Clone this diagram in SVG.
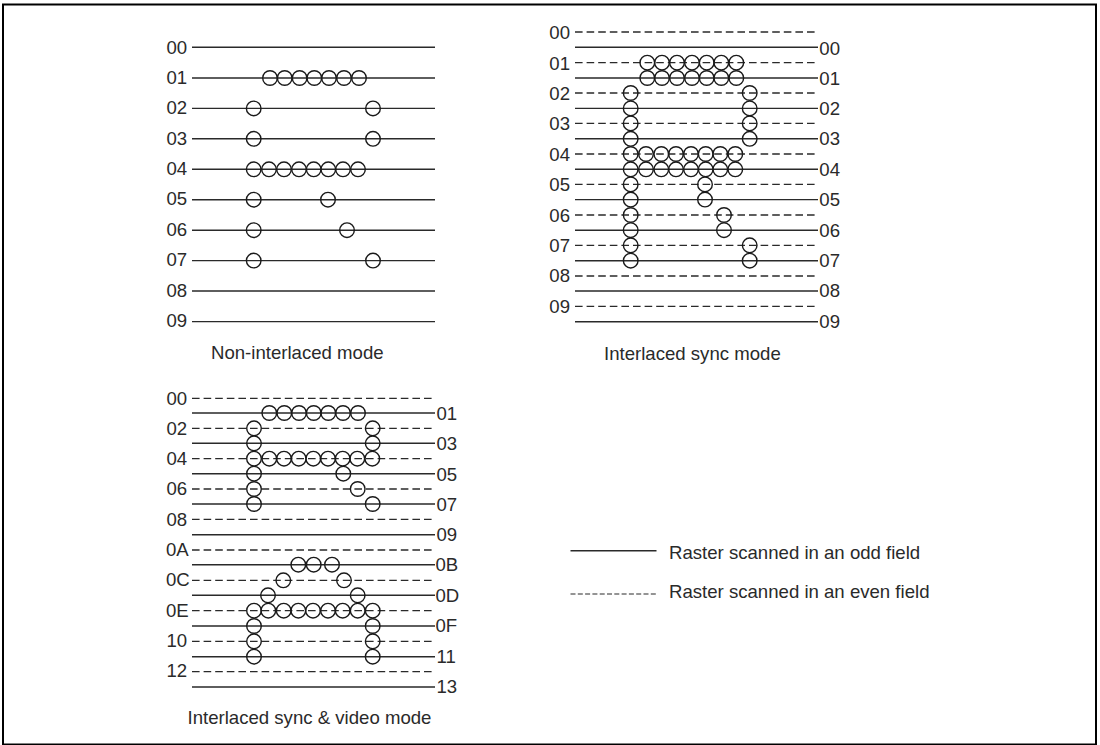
<svg xmlns="http://www.w3.org/2000/svg" width="1100" height="745" viewBox="0 0 1100 745">
<style>
text{font-family:"Liberation Sans",Arial,sans-serif;font-size:18.6px;fill:#2a2a2a}
.s{stroke:#2a2a2a;stroke-width:1.4;fill:none}
.d{stroke:#2a2a2a;stroke-width:1.3;fill:none;stroke-dasharray:7.6 4}
.l{stroke:#2a2a2a;stroke-width:1.2;fill:none;stroke-dasharray:5 2.3}
circle{stroke:#1a1a1a;stroke-width:1.4;fill:none;r:7.3px}
</style>
<rect x="3" y="4.5" width="1093" height="740" fill="#fff" stroke="#000" stroke-width="2"/>
<g id="non-interlaced">
<g id="n-lines">
<path class="s" d="M192 47.3H435M192 78H435M192 108.4H435M192 138.8H435M192 169.3H435M192 199.7H435M192 230.2H435M192 260.6H435M192 291H435M192 321.6H435"/>
</g>
<g id="n-labels">
<text x="166.5" y="53.5">00</text><text x="166.5" y="84">01</text><text x="166.5" y="114">02</text><text x="166.5" y="144.5">03</text><text x="166.5" y="175">04</text><text x="166.5" y="205">05</text><text x="166.5" y="236">06</text><text x="166.5" y="266">07</text><text x="166.5" y="296.5">08</text><text x="166.5" y="327">09</text>
<text x="211" y="359">Non-interlaced mode</text>
</g>
<g id="n-dots">
<circle cx="270" cy="78"/><circle cx="284.7" cy="78"/><circle cx="299.6" cy="78"/><circle cx="314.3" cy="78"/><circle cx="329" cy="78"/><circle cx="344" cy="78"/><circle cx="359" cy="78"/>
<circle cx="253.7" cy="108.4"/><circle cx="373" cy="108.4"/><circle cx="253.7" cy="138.8"/><circle cx="373" cy="138.8"/>
<circle cx="253.7" cy="169.3"/><circle cx="269" cy="169.3"/><circle cx="284" cy="169.3"/><circle cx="299" cy="169.3"/><circle cx="313.7" cy="169.3"/><circle cx="328.3" cy="169.3"/><circle cx="343" cy="169.3"/><circle cx="358" cy="169.3"/>
<circle cx="253.7" cy="199.7"/><circle cx="328" cy="199.7"/><circle cx="253.7" cy="230.2"/><circle cx="347" cy="230.2"/><circle cx="253.7" cy="260.6"/><circle cx="373" cy="260.6"/>
</g>
</g>
<g id="interlaced-sync">
<g id="i-lines">
<path class="d" d="M575 32H818M575 62.7H818M575 93H818M575 123.4H818M575 154H818M575 184.4H818M575 215H818M575 245.3H818M575 276H818M575 306.4H818"/>
<path class="s" d="M575 47.3H818M575 78H818M575 108.4H818M575 138.8H818M575 169.3H818M575 199.6H818M575 230.2H818M575 260.7H818M575 291H818M575 321.7H818"/>
</g>
<g id="i-labels">
<text x="549.3" y="39">00</text><text x="549.3" y="69.5">01</text><text x="549.3" y="99.5">02</text><text x="549.3" y="130">03</text><text x="549.3" y="160.5">04</text><text x="549.3" y="190.5">05</text><text x="549.3" y="221.5">06</text><text x="549.3" y="251.5">07</text><text x="549.3" y="282">08</text><text x="549.3" y="312.5">09</text>
<text x="819.3" y="54.5">00</text><text x="819.3" y="84.5">01</text><text x="819.3" y="114.5">02</text><text x="819.3" y="145">03</text><text x="819.3" y="175.5">04</text><text x="819.3" y="205.5">05</text><text x="819.3" y="236.5">06</text><text x="819.3" y="266.5">07</text><text x="819.3" y="297">08</text><text x="819.3" y="327.5">09</text>
<text x="604" y="360">Interlaced sync mode</text>
</g>
<g id="i-dots">
<circle cx="647.3" cy="62.7"/><circle cx="662" cy="62.7"/><circle cx="677" cy="62.7"/><circle cx="692" cy="62.7"/><circle cx="706.7" cy="62.7"/><circle cx="721.3" cy="62.7"/><circle cx="736.3" cy="62.7"/>
<circle cx="647.3" cy="78"/><circle cx="662" cy="78"/><circle cx="677" cy="78"/><circle cx="692" cy="78"/><circle cx="706.7" cy="78"/><circle cx="721.3" cy="78"/><circle cx="736.3" cy="78"/>
<circle cx="630.7" cy="93"/><circle cx="749.7" cy="93"/><circle cx="630.7" cy="108.4"/><circle cx="749.7" cy="108.4"/><circle cx="630.7" cy="123.4"/><circle cx="749.7" cy="123.4"/><circle cx="630.7" cy="138.8"/><circle cx="749.7" cy="138.8"/>
<circle cx="630.7" cy="154"/><circle cx="646" cy="154"/><circle cx="661.3" cy="154"/><circle cx="676" cy="154"/><circle cx="691" cy="154"/><circle cx="705.7" cy="154"/><circle cx="720.3" cy="154"/><circle cx="735.3" cy="154"/>
<circle cx="630.7" cy="169.3"/><circle cx="646" cy="169.3"/><circle cx="661.3" cy="169.3"/><circle cx="676" cy="169.3"/><circle cx="691" cy="169.3"/><circle cx="705.7" cy="169.3"/><circle cx="720.3" cy="169.3"/><circle cx="735.3" cy="169.3"/>
<circle cx="630.7" cy="184.4"/><circle cx="705" cy="184.4"/><circle cx="630.7" cy="199.6"/><circle cx="705" cy="199.6"/>
<circle cx="630.7" cy="215"/><circle cx="724" cy="215"/><circle cx="630.7" cy="230.2"/><circle cx="724" cy="230.2"/>
<circle cx="630.7" cy="245.3"/><circle cx="749.7" cy="245.3"/><circle cx="630.7" cy="260.7"/><circle cx="749.7" cy="260.7"/>
</g>
</g>
<g id="interlaced-sync-video">
<g id="v-lines">
<path class="d" d="M192 398.3H435M192 428.3H435M192 458.7H435M192 489H435M192 519.3H435M192 550H435M192 580.3H435M192 610.7H435M192 641.3H435M192 671.7H435"/>
<path class="s" d="M192 413H435M192 443.3H435M192 473.7H435M192 504H435M192 534.7H435M192 564.7H435M192 595.3H435M192 626H435M192 656.7H435M192 687H435"/>
</g>
<g id="v-labels">
<text x="166.5" y="404.5">00</text><text x="166.5" y="434.5">02</text><text x="166.5" y="465">04</text><text x="166.5" y="495">06</text><text x="166.5" y="525.5">08</text><text x="166" y="555.5">0A</text><text x="166" y="586">0C</text><text x="166" y="616.5">0E</text><text x="166.5" y="646.5">10</text><text x="166.5" y="677">12</text>
<text x="436.5" y="420">01</text><text x="436.5" y="450">03</text><text x="436.5" y="480.5">05</text><text x="436.5" y="510.5">07</text><text x="436.5" y="541">09</text><text x="435.5" y="571">0B</text><text x="435.5" y="601.5">0D</text><text x="435.5" y="632">0F</text><text x="436.5" y="662.5">11</text><text x="436.5" y="692.5">13</text>
<text x="187.5" y="724">Interlaced sync &amp; video mode</text>
</g>
<g id="v-dots">
<circle cx="269.3" cy="413"/><circle cx="284.3" cy="413"/><circle cx="299" cy="413"/><circle cx="313.7" cy="413"/><circle cx="328.3" cy="413"/><circle cx="343" cy="413"/><circle cx="358" cy="413"/>
<circle cx="254" cy="428.3"/><circle cx="372.7" cy="428.3"/><circle cx="254" cy="443.3"/><circle cx="372.7" cy="443.3"/>
<circle cx="254" cy="458.7"/><circle cx="269.3" cy="458.7"/><circle cx="284" cy="458.7"/><circle cx="298.7" cy="458.7"/><circle cx="313.3" cy="458.7"/><circle cx="328" cy="458.7"/><circle cx="342.7" cy="458.7"/><circle cx="357.3" cy="458.7"/><circle cx="372.3" cy="458.7"/>
<circle cx="254" cy="473.7"/><circle cx="343.3" cy="473.7"/><circle cx="254" cy="489"/><circle cx="357.7" cy="489"/><circle cx="254" cy="504"/><circle cx="372.7" cy="504"/>
<circle cx="298.3" cy="564.7"/><circle cx="313.7" cy="564.7"/><circle cx="332" cy="564.7"/>
<circle cx="283.3" cy="580.3"/><circle cx="344" cy="580.3"/><circle cx="268" cy="595.3"/><circle cx="357.7" cy="595.3"/>
<circle cx="254" cy="610.7"/><circle cx="268.3" cy="610.7"/><circle cx="283.7" cy="610.7"/><circle cx="298.3" cy="610.7"/><circle cx="313" cy="610.7"/><circle cx="328" cy="610.7"/><circle cx="342.7" cy="610.7"/><circle cx="357.7" cy="610.7"/><circle cx="372.7" cy="610.7"/>
<circle cx="254" cy="626"/><circle cx="372.7" cy="626"/><circle cx="254" cy="641.3"/><circle cx="372.7" cy="641.3"/><circle cx="254" cy="656.7"/><circle cx="372.7" cy="656.7"/>
</g>
</g>
<g id="legend">
<path class="s" d="M570.5 550.7H656.5"/>
<path class="l" d="M570.5 594H656.5"/>
<text x="669" y="559">Raster scanned in an odd field</text>
<text x="669" y="598">Raster scanned in an even field</text>
</g>
</svg>
